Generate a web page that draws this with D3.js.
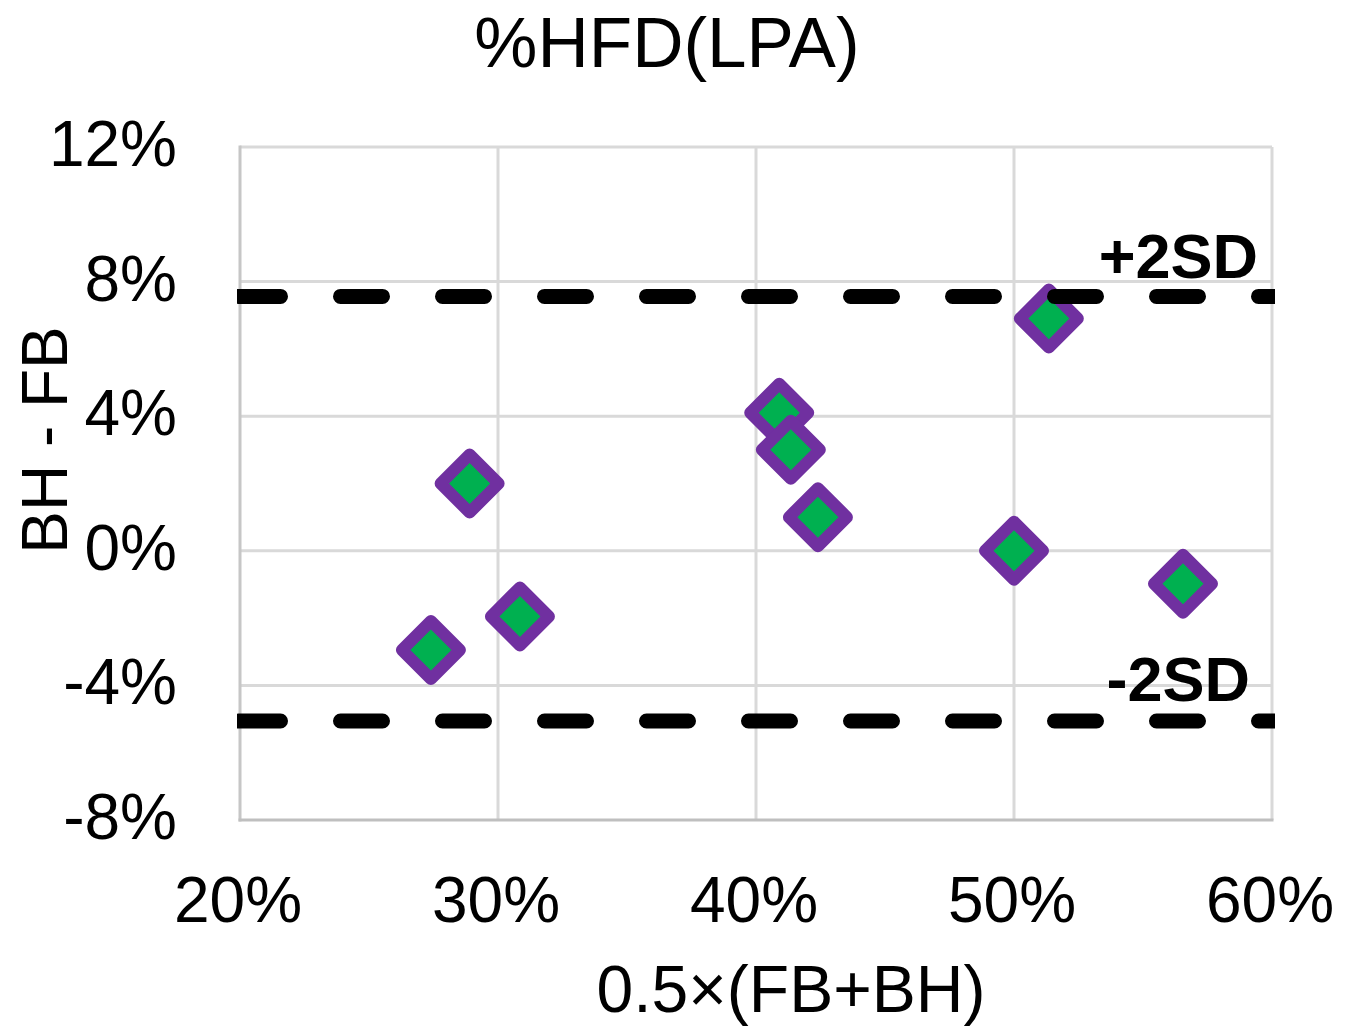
<!DOCTYPE html>
<html>
<head>
<meta charset="utf-8">
<script src="https://cdn.jsdelivr.net/npm/d3@7"></script>
<style>
  html, body { margin: 0; padding: 0; background: #fff; }
  svg { display: block; }
  text { font-family: "Liberation Sans", Arial, sans-serif; fill: #000; }
</style>
</head>
<body>
<svg id="chart" width="1356" height="1028"></svg>
<script>
// ---- data ----
const meanValues = [27.4, 28.9, 30.85, 40.9, 41.35, 42.4, 50.0, 51.35, 56.55]; // 0.5×(FB+BH) in %
const diffValues = [-2.95, 2.0, -1.95, 4.1, 3.0, 1.0, 0.0, 6.9, -0.98];       // BH - FB in %
const xTicks = [20, 30, 40, 50, 60];
const yTicks = [12, 8, 4, 0, -4, -8];
const sdLines = [
  { label: "+2SD", value: 7.56 },
  { label: "-2SD", value: -5.06 }
];
const titleText = "%HFD(LPA)";
const xTitle = "0.5×(FB+BH)";
const yTitle = "BH - FB";

// ---- layout ----
const svg = d3.select("#chart");
const L = 240, R = 1272, T = 147, B = 820;
const x = d3.scaleLinear().domain([20, 60]).range([L, R]);
const y = d3.scaleLinear().domain([-8, 12]).range([B, T]);

// gridlines
const grid = svg.append("g");
grid.selectAll("line.h").data(yTicks.filter(d => d !== -8)).enter().append("line")
  .attr("x1", L).attr("x2", R).attr("y1", d => y(d)).attr("y2", d => y(d))
  .attr("stroke", "#d9d9d9").attr("stroke-width", 3);
grid.selectAll("line.v").data(xTicks.filter(d => d !== 20)).enter().append("line")
  .attr("x1", d => x(d)).attr("x2", d => x(d)).attr("y1", T).attr("y2", B)
  .attr("stroke", "#d9d9d9").attr("stroke-width", 3);

// axis lines
svg.append("line").attr("x1", L).attr("x2", L).attr("y1", T - 1.5).attr("y2", B + 1.5)
  .attr("stroke", "#c6c6c6").attr("stroke-width", 3);
svg.append("line").attr("x1", L - 1.5).attr("x2", R + 1.5).attr("y1", B).attr("y2", B)
  .attr("stroke", "#bfbfbf").attr("stroke-width", 3);

// y tick labels
svg.append("g").selectAll("text").data(yTicks).enter().append("text")
  .attr("x", 177).attr("y", d => y(d) + 19)
  .attr("text-anchor", "end").attr("font-size", 64)
  .text(d => d + "%");

// x tick labels
svg.append("g").selectAll("text").data(xTicks).enter().append("text")
  .attr("x", d => x(d) - 2).attr("y", 922)
  .attr("text-anchor", "middle").attr("font-size", 64)
  .text(d => d + "%");

// points
const sym = d3.symbol().type(d3.symbolSquare).size(1682);
svg.append("g").selectAll("path").data(meanValues.map((m, i) => [m, diffValues[i]])).enter().append("path")
  .attr("d", sym)
  .attr("transform", d => `translate(${x(d[0])},${y(d[1])}) rotate(45)`)
  .attr("fill", "#00b050").attr("stroke", "#7030a0")
  .attr("stroke-width", 12).attr("stroke-linejoin", "round");

// SD dashed lines
svg.append("defs").append("clipPath").attr("id", "sdclip")
  .append("rect").attr("x", L - 3).attr("y", 0).attr("width", R - L + 6).attr("height", 1028);
svg.append("g").attr("clip-path", "url(#sdclip)").selectAll("line").data(sdLines).enter().append("line")
  .attr("x1", L - 1.5).attr("x2", R + 10)
  .attr("y1", d => y(d.value)).attr("y2", d => y(d.value))
  .attr("stroke", "#000").attr("stroke-width", 15)
  .attr("stroke-linecap", "round").attr("stroke-dasharray", "42 60");

// SD labels
svg.append("g").selectAll("text").data(sdLines).enter().append("text")
  .attr("x", d => d.value > 0 ? 1258 : 1250)
  .attr("y", d => d.value > 0 ? y(d.value) - 18 : y(d.value) - 20)
  .attr("text-anchor", "end").attr("font-size", 63).attr("font-weight", "bold")
  .text(d => d.label);

// titles
svg.append("text").attr("x", 667).attr("y", 67).attr("text-anchor", "middle")
  .attr("font-size", 71).text(titleText);
svg.append("text").attr("x", 791).attr("y", 1012).attr("text-anchor", "middle")
  .attr("font-size", 66).text(xTitle);
svg.append("text").attr("transform", "translate(67,440) rotate(-90)")
  .attr("text-anchor", "middle").attr("font-size", 64).text(yTitle);
</script>
</body>
</html>
